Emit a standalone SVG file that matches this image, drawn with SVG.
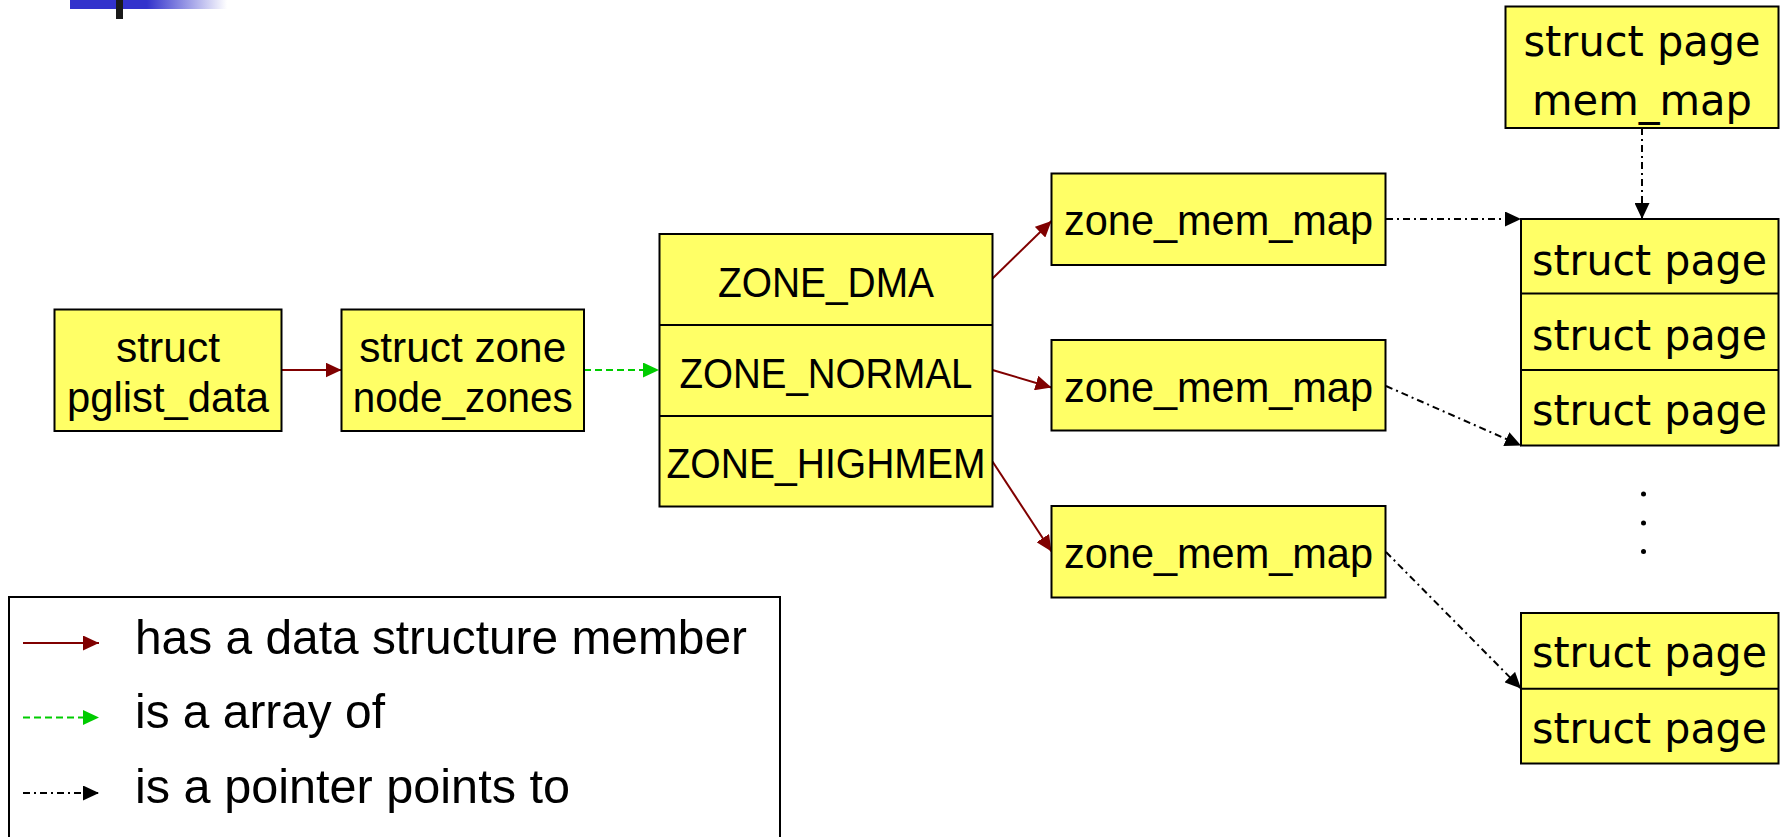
<svg xmlns="http://www.w3.org/2000/svg" width="1786" height="837" viewBox="0 0 1786 837">
<style>
.box{fill:#ffff66;stroke:#000;stroke-width:2}
.div{stroke:#000;stroke-width:2}
.t{font-family:"Liberation Sans",Arial,sans-serif;font-size:43px;fill:#000;text-anchor:middle}
.p{font-family:"DejaVu Sans",Verdana,sans-serif;font-size:42px;fill:#000;text-anchor:middle}
.lg{font-family:"Liberation Sans",Arial,sans-serif;font-size:49px;fill:#000}
.red{stroke:#800000;stroke-width:2;fill:none;marker-end:url(#ar)}
.grn{stroke:#00cc00;stroke-width:2;fill:none;stroke-dasharray:7 4;marker-end:url(#ag)}
.ptr{stroke:#000;stroke-width:2;fill:none;stroke-dasharray:7 4 2 4;marker-end:url(#ak)}
</style>
<defs>
<marker id="ar" markerUnits="userSpaceOnUse" markerWidth="16" markerHeight="15" refX="16" refY="7.5" orient="auto"><path d="M0,0 L16,7.5 L0,15 z" fill="#800000"/></marker>
<marker id="ag" markerUnits="userSpaceOnUse" markerWidth="16" markerHeight="15" refX="16" refY="7.5" orient="auto"><path d="M0,0 L16,7.5 L0,15 z" fill="#00cc00"/></marker>
<marker id="ak" markerUnits="userSpaceOnUse" markerWidth="16" markerHeight="15" refX="16" refY="7.5" orient="auto"><path d="M0,0 L16,7.5 L0,15 z" fill="#000"/></marker>
<linearGradient id="bar" x1="0" y1="0" x2="1" y2="0">
<stop offset="0" stop-color="#3333cc"/>
<stop offset="0.49" stop-color="#3333cc"/>
<stop offset="1" stop-color="#ffffff"/>
</linearGradient>
</defs>
<rect width="1786" height="837" fill="#fff"/>
<g id="decoration">
<rect x="70" y="0" width="157" height="9" fill="url(#bar)"/>
<rect x="116" y="0" width="7" height="19" fill="#1a1a1a"/>
</g>
<g id="connectors">
<path class="red" d="M281.5,370 L341.5,370"/>
<path class="grn" d="M584,370 L659,370"/>
<path class="red" d="M992.5,278.5 L1051.5,221"/>
<path class="red" d="M992.5,370 L1051.5,387.5"/>
<path class="red" d="M992.5,461.5 L1051.5,551.5"/>
<path class="ptr" d="M1386,219 L1521,219"/>
<path class="ptr" d="M1386,386 L1521,445.5"/>
<path class="ptr" d="M1386,552 L1521,688.5"/>
<path class="ptr" d="M1642,128 L1642,219"/>
</g>
<g id="pglist_data">
<rect class="box" x="54.5" y="309.5" width="227" height="121.5"/>
<text class="t" x="168" y="361.7" textLength="104" lengthAdjust="spacingAndGlyphs">struct</text>
<text class="t" x="168" y="411.7" textLength="202" lengthAdjust="spacingAndGlyphs">pglist_data</text>
</g>
<g id="node_zones">
<rect class="box" x="341.5" y="309.5" width="242.5" height="121.5"/>
<text class="t" x="462.7" y="361.7" textLength="207" lengthAdjust="spacingAndGlyphs">struct zone</text>
<text class="t" x="462.7" y="411.7" textLength="220" lengthAdjust="spacingAndGlyphs">node_zones</text>
</g>
<g id="zones">
<rect class="box" x="659.5" y="234" width="333" height="272.5"/>
<line class="div" x1="659.5" y1="325" x2="992.5" y2="325"/>
<line class="div" x1="659.5" y1="416" x2="992.5" y2="416"/>
<text class="t" x="826" y="296.7" textLength="216" lengthAdjust="spacingAndGlyphs">ZONE_DMA</text>
<text class="t" x="826" y="387.7" textLength="293" lengthAdjust="spacingAndGlyphs">ZONE_NORMAL</text>
<text class="t" x="826" y="477.7" textLength="319" lengthAdjust="spacingAndGlyphs">ZONE_HIGHMEM</text>
</g>
<g id="zone_mem_map_1">
<rect class="box" x="1051.5" y="173.5" width="334" height="91.5"/>
<text class="t" x="1218.5" y="235" textLength="309" lengthAdjust="spacingAndGlyphs">zone_mem_map</text>
</g>
<g id="zone_mem_map_2">
<rect class="box" x="1051.5" y="340" width="334" height="90.5"/>
<text class="t" x="1218.5" y="401.7" textLength="309" lengthAdjust="spacingAndGlyphs">zone_mem_map</text>
</g>
<g id="zone_mem_map_3">
<rect class="box" x="1051.5" y="506" width="334" height="91.5"/>
<text class="t" x="1218.5" y="568" textLength="309" lengthAdjust="spacingAndGlyphs">zone_mem_map</text>
</g>
<g id="mem_map">
<rect class="box" x="1505.5" y="6.5" width="273" height="121.5"/>
<text class="p" x="1642" y="56" textLength="237" lengthAdjust="spacingAndGlyphs">struct page</text>
<text class="p" x="1642" y="114.8" textLength="220" lengthAdjust="spacingAndGlyphs">mem_map</text>
</g>
<g id="pages_1">
<rect class="box" x="1521" y="219" width="257.5" height="226.5"/>
<line class="div" x1="1521" y1="293.6" x2="1778.5" y2="293.6"/>
<line class="div" x1="1521" y1="370" x2="1778.5" y2="370"/>
<text class="p" x="1649.5" y="275" textLength="235" lengthAdjust="spacingAndGlyphs">struct page</text>
<text class="p" x="1649.5" y="349.7" textLength="235" lengthAdjust="spacingAndGlyphs">struct page</text>
<text class="p" x="1649.5" y="424.5" textLength="235" lengthAdjust="spacingAndGlyphs">struct page</text>
</g>
<g id="ellipsis">
<circle cx="1643.5" cy="494" r="2.5" fill="#000"/>
<circle cx="1643.5" cy="523" r="2.5" fill="#000"/>
<circle cx="1643.5" cy="551.5" r="2.5" fill="#000"/>
</g>
<g id="pages_2">
<rect class="box" x="1521" y="613" width="257.5" height="150.5"/>
<line class="div" x1="1521" y1="688.7" x2="1778.5" y2="688.7"/>
<text class="p" x="1649.5" y="667.4" textLength="235" lengthAdjust="spacingAndGlyphs">struct page</text>
<text class="p" x="1649.5" y="743.2" textLength="235" lengthAdjust="spacingAndGlyphs">struct page</text>
</g>
<g id="legend">
<rect x="9" y="597" width="771" height="260" fill="none" stroke="#000" stroke-width="2"/>
<path class="red" d="M23,643 L99,643"/>
<path class="grn" d="M23,717.5 L99,717.5"/>
<path class="ptr" d="M23,793 L99,793"/>
<text class="lg" x="135" y="654.3" textLength="612" lengthAdjust="spacingAndGlyphs">has a data structure member</text>
<text class="lg" x="135" y="728.3" textLength="250" lengthAdjust="spacingAndGlyphs">is a array of</text>
<text class="lg" x="135" y="803.3" textLength="435" lengthAdjust="spacingAndGlyphs">is a pointer points to</text>
</g>
</svg>
